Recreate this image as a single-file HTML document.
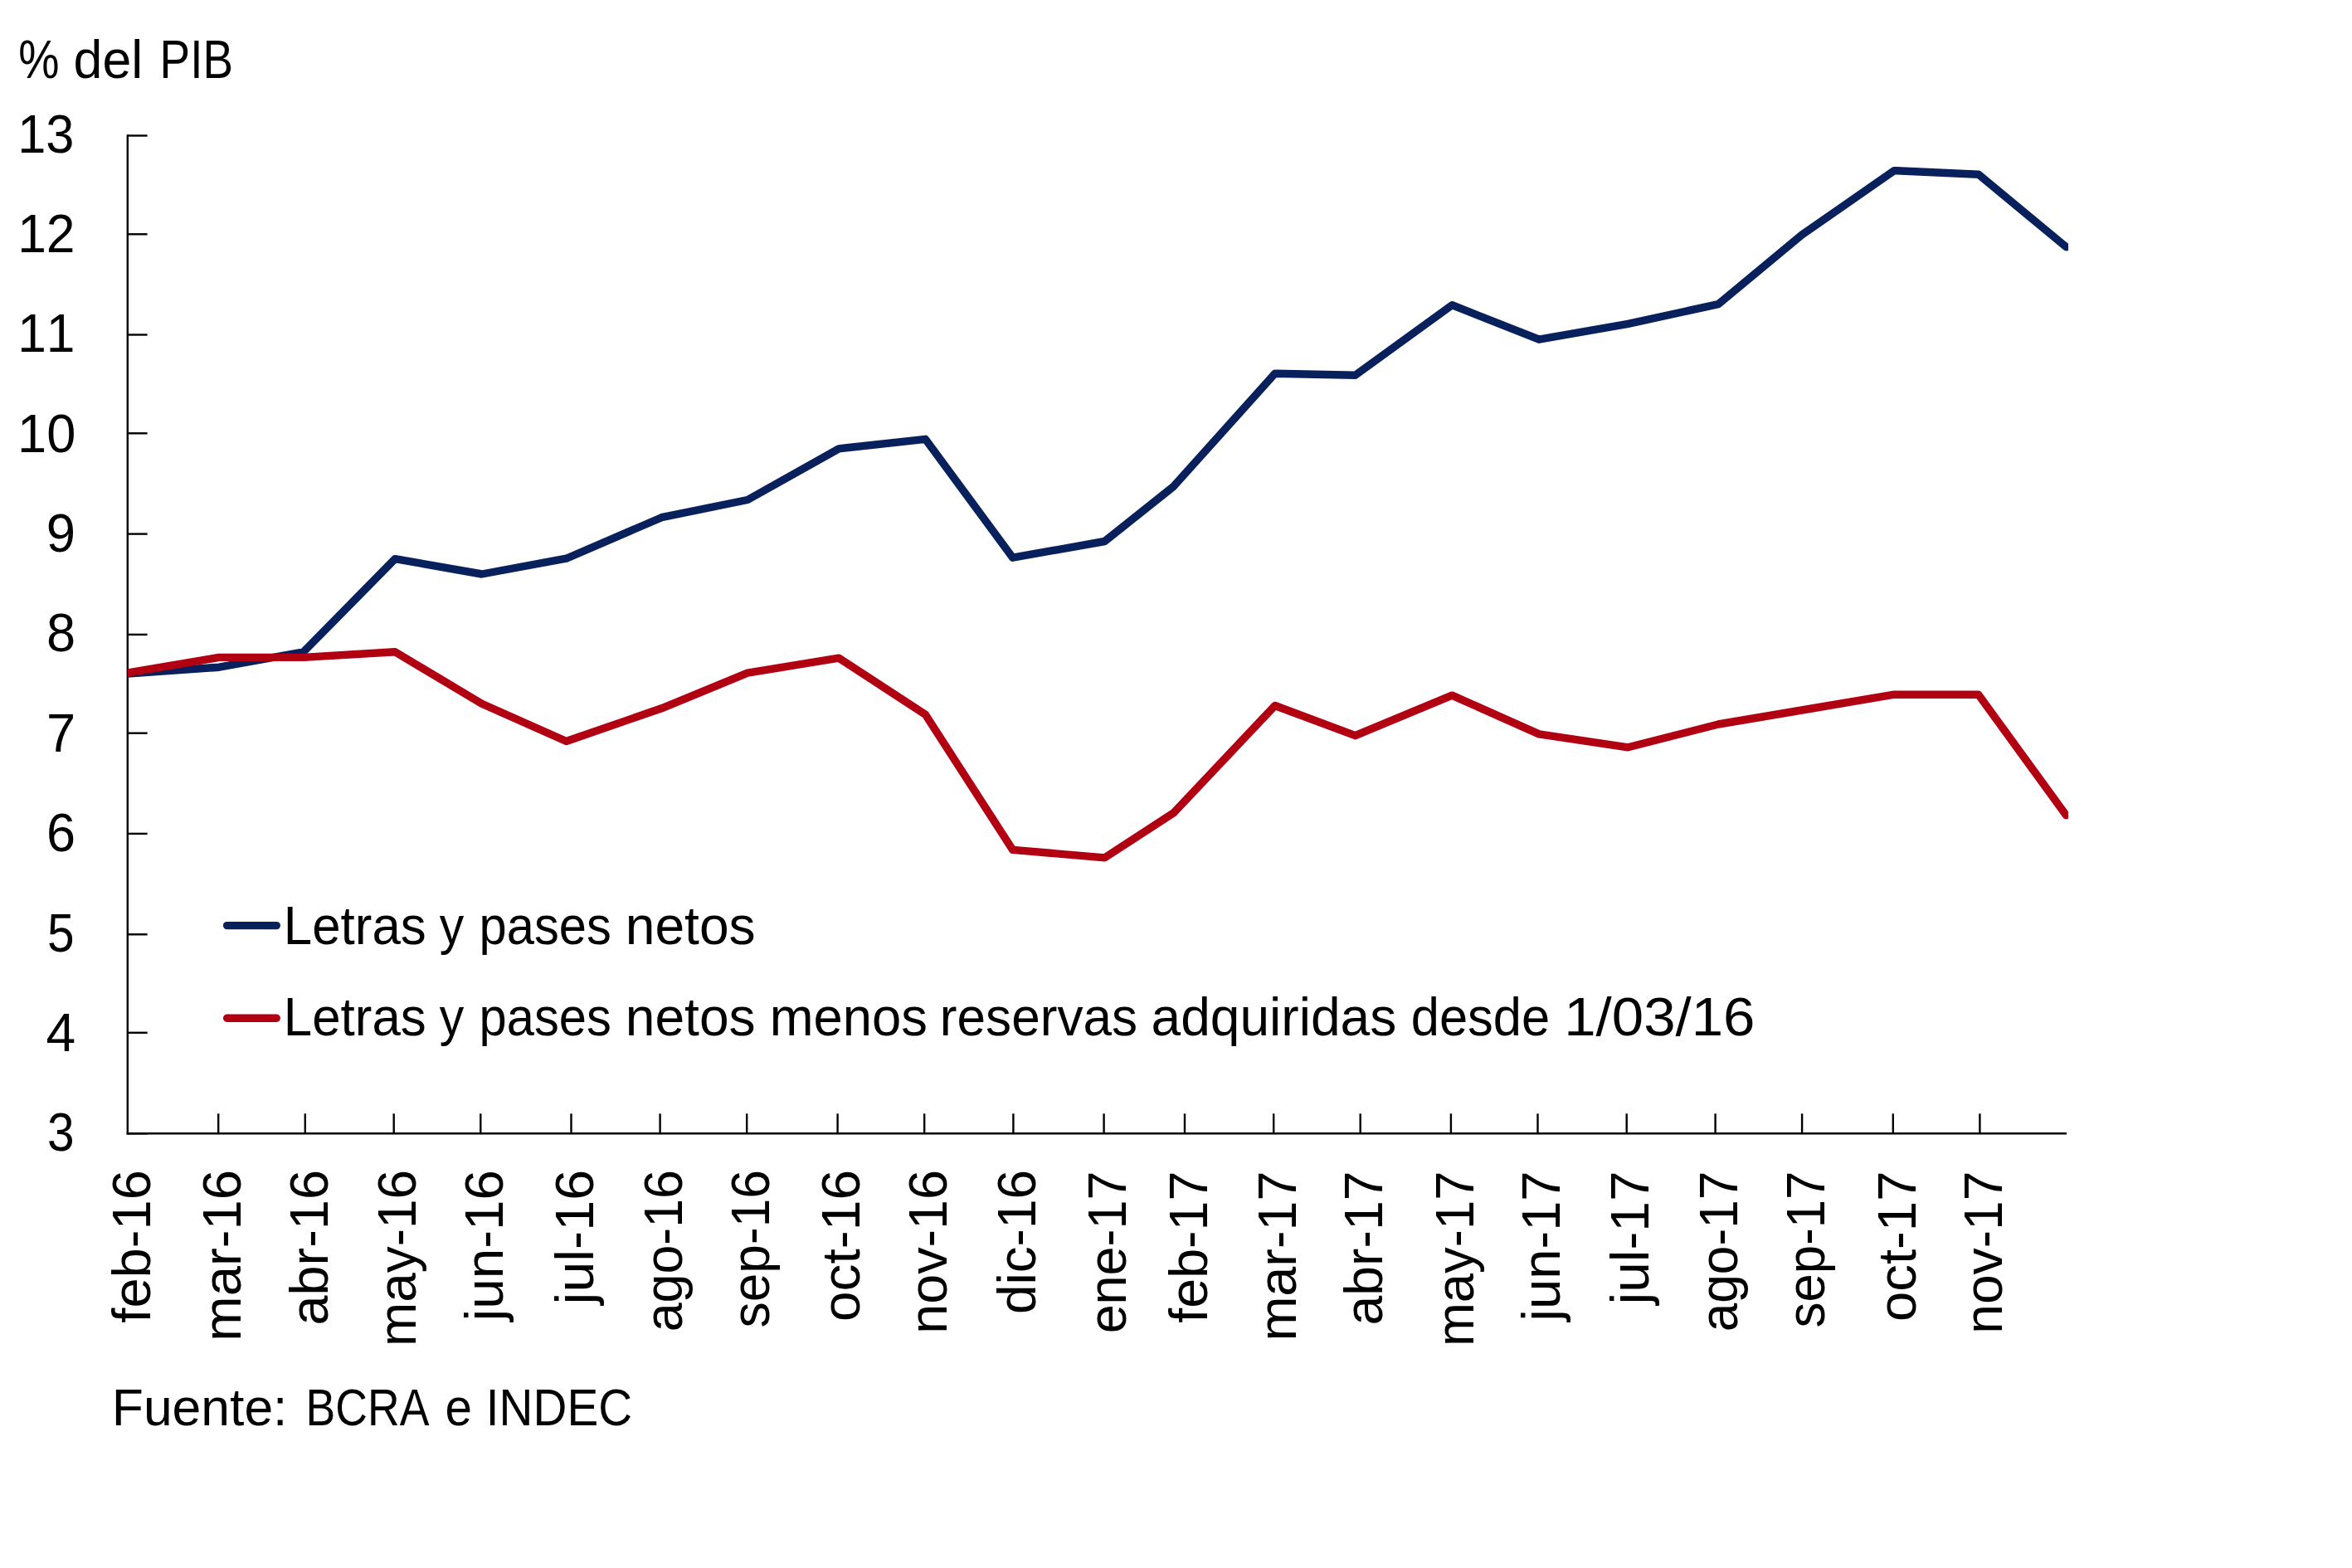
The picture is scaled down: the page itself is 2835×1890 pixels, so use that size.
<!DOCTYPE html>
<html><head><meta charset="utf-8"><title>chart</title>
<style>
html,body{margin:0;padding:0;background:#fff;}
svg{display:block;}
text{font-family:"Liberation Sans",sans-serif;font-kerning:none;fill:#000;white-space:pre;}
.ax path{stroke:#000;stroke-width:2.4;fill:none;}
.ln{fill:none;stroke-width:9.4;stroke-linejoin:round;stroke-linecap:round;}
</style></head>
<body>
<svg width="2835" height="1890" viewBox="0 0 2835 1890">
<rect width="2835" height="1890" fill="#ffffff"/>
<defs><clipPath id="plot"><rect x="153.9" y="100" width="2339.2" height="1300"/></clipPath></defs>
<g class="ax">
<path d="M153.8 162.30V1367.50" />
<path d="M152.60 1366.3H2491.0" />
<path d="M153.8 163.5H177.6" />
<path d="M153.8 282.3H177.6" />
<path d="M153.8 403.5H177.6" />
<path d="M153.8 522.3H177.6" />
<path d="M153.8 643.6H177.6" />
<path d="M153.8 764.9H177.6" />
<path d="M153.8 883.7H177.6" />
<path d="M153.8 1004.9H177.6" />
<path d="M153.8 1126.3H177.6" />
<path d="M153.8 1244.8H177.6" />
<path d="M153.8 1366.3H177.6" />
<path d="M263.2 1342.3V1366.3" />
<path d="M367.8 1342.3V1366.3" />
<path d="M474.7 1342.3V1366.3" />
<path d="M579.3 1342.3V1366.3" />
<path d="M688.5 1342.3V1366.3" />
<path d="M795.6 1342.3V1366.3" />
<path d="M900.2 1342.3V1366.3" />
<path d="M1009.6 1342.3V1366.3" />
<path d="M1114.2 1342.3V1366.3" />
<path d="M1221.4 1342.3V1366.3" />
<path d="M1330.6 1342.3V1366.3" />
<path d="M1428.0 1342.3V1366.3" />
<path d="M1535.2 1342.3V1366.3" />
<path d="M1639.7 1342.3V1366.3" />
<path d="M1748.9 1342.3V1366.3" />
<path d="M1853.5 1342.3V1366.3" />
<path d="M1960.7 1342.3V1366.3" />
<path d="M2067.6 1342.3V1366.3" />
<path d="M2172.1 1342.3V1366.3" />
<path d="M2281.8 1342.3V1366.3" />
<path d="M2386.4 1342.3V1366.3" />
</g>
<g clip-path="url(#plot)">
<polyline class="ln" stroke="#08205c" points="153.8,812.0 264.2,804.2 365.8,785.8 476.2,673.6 580.8,692.0 682.6,673.2 797.5,623.7 901.1,602.5 1011.1,540.8 1115.4,529.3 1220.7,672.2 1331.5,652.5 1414.7,586.2 1536.8,450.2 1633.6,452.2 1750.2,367.7 1855.1,409.2 1962.4,390.4 2071.2,366.6 2171.8,283.2 2283.2,205.6 2384.7,210.2 2490.5,297.7"/>
<polyline class="ln" stroke="#b20013" points="153.8,811.0 264.2,792.4 365.8,792.4 476.2,785.8 580.8,848.3 682.6,893.5 797.5,853.8 901.1,811.1 1011.1,793.2 1115.4,861.2 1220.7,1024.4 1331.5,1033.9 1414.7,979.8 1536.8,850.5 1633.6,886.7 1750.2,838.1 1855.1,884.9 1962.4,900.8 2071.2,873.0 2171.8,856.0 2283.2,837.2 2384.7,837.2 2490.5,982.7"/>
</g>
<path class="ln" stroke="#08205c" d="M273.6 1115.6H333.3"/>
<path class="ln" stroke="#b20013" d="M273.6 1227.3H333.3"/>
<g>
<text transform="matrix(0.8654 0 0 1 22.23 93.70)" font-size="64.0">%</text>
<text transform="matrix(0.9791 0 0 1 88.57 93.70)" font-size="64.0">del</text>
<text transform="matrix(0.8569 0 0 1 192.60 93.70)" font-size="64.0">PIB</text>
<text transform="matrix(0.9575 0 0 1 21.23 183.50)" font-size="64.0">13</text>
<text transform="matrix(0.9747 0 0 1 21.15 303.88)" font-size="64.0">12</text>
<text transform="matrix(0.9733 0 0 1 21.16 424.26)" font-size="64.0">11</text>
<text transform="matrix(0.9873 0 0 1 21.09 544.64)" font-size="64.0">10</text>
<text transform="matrix(0.9911 0 0 1 55.73 665.02)" font-size="64.0">9</text>
<text transform="matrix(0.9856 0 0 1 55.96 785.40)" font-size="64.0">8</text>
<text transform="matrix(0.9865 0 0 1 56.06 905.78)" font-size="64.0">7</text>
<text transform="matrix(0.9854 0 0 1 56.10 1026.16)" font-size="64.0">6</text>
<text transform="matrix(0.9162 0 0 1 56.95 1146.54)" font-size="64.0">5</text>
<text transform="matrix(1.0016 0 0 1 55.53 1266.92)" font-size="64.0">4</text>
<text transform="matrix(0.9162 0 0 1 57.07 1387.30)" font-size="64.0">3</text>
<text transform="matrix(0 -1.0183 1 0 180.60 1594.72)" font-size="64.0">feb-16</text>
<text transform="matrix(0 -1.0196 1 0 289.90 1616.63)" font-size="64.0">mar-16</text>
<text transform="matrix(0 -1.0141 1 0 394.50 1597.56)" font-size="64.0">abr-16</text>
<text transform="matrix(0 -0.9983 1 0 501.40 1623.04)" font-size="64.0">may-16</text>
<text transform="matrix(0 -1.0257 1 0 606.00 1592.40)" font-size="64.0">jun-16</text>
<text transform="matrix(0 -1.0381 1 0 715.20 1572.38)" font-size="64.0">jul-16</text>
<text transform="matrix(0 -0.9801 1 0 822.30 1605.36)" font-size="64.0">ago-16</text>
<text transform="matrix(0 -0.9728 1 0 926.90 1600.43)" font-size="64.0">sep-16</text>
<text transform="matrix(0 -1.0297 1 0 1036.30 1593.07)" font-size="64.0">oct-16</text>
<text transform="matrix(0 -1.0110 1 0 1140.90 1607.80)" font-size="64.0">nov-16</text>
<text transform="matrix(0 -0.9987 1 0 1248.10 1584.08)" font-size="64.0">dic-16</text>
<text transform="matrix(0 -0.9827 1 0 1357.30 1607.37)" font-size="64.0">ene-17</text>
<text transform="matrix(0 -1.0099 1 0 1454.70 1594.72)" font-size="64.0">feb-17</text>
<text transform="matrix(0 -1.0120 1 0 1561.90 1616.60)" font-size="64.0">mar-17</text>
<text transform="matrix(0 -1.0058 1 0 1666.40 1597.53)" font-size="64.0">abr-17</text>
<text transform="matrix(0 -0.9911 1 0 1775.60 1623.01)" font-size="64.0">may-17</text>
<text transform="matrix(0 -1.0173 1 0 1880.20 1592.41)" font-size="64.0">jun-17</text>
<text transform="matrix(0 -1.0286 1 0 1987.40 1572.39)" font-size="64.0">jul-17</text>
<text transform="matrix(0 -0.9724 1 0 2094.30 1605.34)" font-size="64.0">ago-17</text>
<text transform="matrix(0 -0.9649 1 0 2198.80 1600.42)" font-size="64.0">sep-17</text>
<text transform="matrix(0 -1.0211 1 0 2308.50 1593.04)" font-size="64.0">oct-17</text>
<text transform="matrix(0 -1.0031 1 0 2413.10 1607.76)" font-size="64.0">nov-17</text>
<text transform="matrix(0.9545 0 0 1 341.83 1137.60)" font-size="64.8">Letras</text>
<text transform="matrix(0.9092 0 0 1 529.76 1137.60)" font-size="64.8">y</text>
<text transform="matrix(0.9213 0 0 1 577.55 1137.60)" font-size="64.8">pases</text>
<text transform="matrix(0.9903 0 0 1 753.74 1137.60)" font-size="64.8">netos</text>
<text transform="matrix(0.9545 0 0 1 341.83 1247.80)" font-size="64.8">Letras</text>
<text transform="matrix(0.9092 0 0 1 529.76 1247.80)" font-size="64.8">y</text>
<text transform="matrix(0.9213 0 0 1 577.55 1247.80)" font-size="64.8">pases</text>
<text transform="matrix(0.9903 0 0 1 753.74 1247.80)" font-size="64.8">netos</text>
<text transform="matrix(0.9784 0 0 1 927.79 1247.80)" font-size="64.8">menos</text>
<text transform="matrix(0.9589 0 0 1 1132.87 1247.80)" font-size="64.8">reservas</text>
<text transform="matrix(0.9894 0 0 1 1387.48 1247.80)" font-size="64.8">adquiridas</text>
<text transform="matrix(0.9488 0 0 1 1700.72 1247.80)" font-size="64.8">desde</text>
<text transform="matrix(1.0652 0 0 1 1885.24 1247.80)" font-size="64.8">1/03/16</text>
<text transform="matrix(0.9879 0 0 1 134.78 1718.00)" font-size="63.2">Fuente:</text>
<text transform="matrix(0.8474 0 0 1 368.61 1718.00)" font-size="63.2">BCRA</text>
<text transform="matrix(0.9239 0 0 1 536.52 1718.00)" font-size="63.2">e</text>
<text transform="matrix(0.8960 0 0 1 585.87 1718.00)" font-size="63.2">INDEC</text>
</g>
</svg>
</body></html>
